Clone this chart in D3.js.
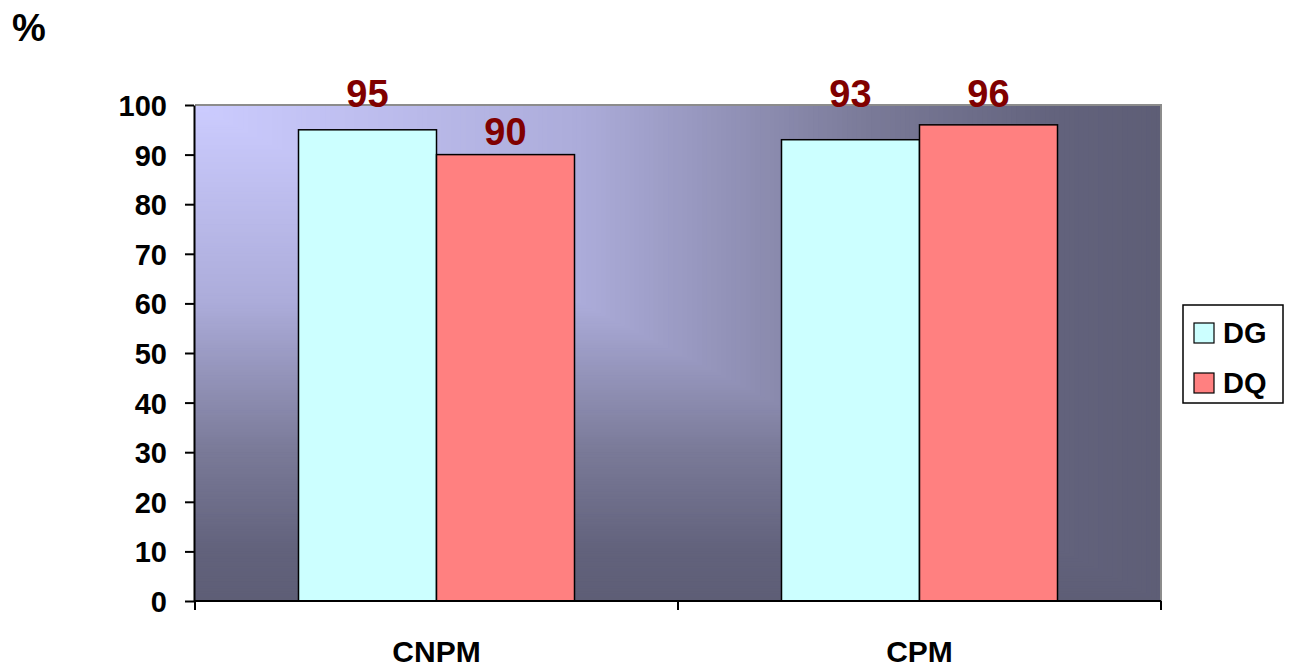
<!DOCTYPE html>
<html>
<head>
<meta charset="utf-8">
<script src="https://cdn.jsdelivr.net/npm/d3@7"></script>
<style>
  html, body { margin: 0; padding: 0; background: #ffffff; }
  svg { display: block; font-family: "Liberation Sans", Arial, sans-serif; font-weight: bold; }
</style>
</head>
<body>
<svg id="chart" width="1293" height="667"></svg>
<script>
const categories = ["CNPM", "CPM"];
const seriesNames = ["DG", "DQ"];
const dgValues = [95, 93];
const dqValues = [90, 96];
const yTicks = [0, 10, 20, 30, 40, 50, 60, 70, 80, 90, 100];
const seriesColors = ["#ccffff", "#ff8080"];

const svg = d3.select("#chart");
const plot = { left: 195, right: 1161, top: 105, bottom: 601 };
const pw = plot.right - plot.left, ph = plot.bottom - plot.top;

const y = d3.scaleLinear().domain([0, 100]).range([plot.bottom, plot.top]);
const x0 = d3.scaleBand().domain(categories).range([plot.left, plot.right]).padding(0);
const x1 = d3.scaleBand().domain(seriesNames).range([0, x0.bandwidth()]).paddingInner(0).paddingOuter(0.75);

// Background: rectangular "from corner" gradient
const bgColor = d3.scaleLinear()
  .domain([0, 0.4, 0.7, 0.9, 1])
  .range(["#ccccff", "#acacda", "#7a7a98", "#62627c", "#5e5e76"])
  .interpolate(d3.interpolateRgb);
const steps = d3.range(200, 0, -1).map(i => i / 200);
const bg = svg.append("g");
bg.selectAll("rect").data(steps).join("rect")
  .attr("x", plot.left).attr("y", plot.top)
  .attr("width", s => pw * s).attr("height", s => ph * s)
  .attr("fill", s => bgColor(s));

// plot area border (gray top & right)
svg.append("path")
  .attr("d", `M${plot.left},${plot.top}H${plot.right}V${plot.bottom}`)
  .attr("fill", "none").attr("stroke", "#8c8c8c").attr("stroke-width", 2);

// data rows
const rows = categories.map((c, i) => ({ cat: c, vals: [dgValues[i], dqValues[i]] }));

const groups = svg.append("g").selectAll("g").data(rows).join("g")
  .attr("transform", d => `translate(${x0(d.cat)},0)`);

groups.selectAll("rect").data(d => d.vals.map((v, j) => ({ s: seriesNames[j], v, j }))).join("rect")
  .attr("x", d => x1(d.s))
  .attr("y", d => y(d.v))
  .attr("width", x1.bandwidth())
  .attr("height", d => y(0) - y(d.v))
  .attr("fill", d => seriesColors[d.j])
  .attr("stroke", "#000").attr("stroke-width", 1.5);

// value labels
const labelSize = 38, capH = labelSize * 0.716;
groups.selectAll("text").data(d => d.vals.map((v, j) => ({ s: seriesNames[j], v, j }))).join("text")
  .attr("x", d => x1(d.s) + x1.bandwidth() / 2)
  .attr("y", d => {
    let b = y(d.v) - 10;
    if (b - capH < plot.top) b = plot.top + 2;
    return b;
  })
  .attr("text-anchor", "middle")
  .attr("fill", "#800000")
  .attr("font-size", labelSize)
  .text(d => d.v);

// Y axis
const yAxis = svg.append("g").attr("transform", `translate(${plot.left - 1},0)`)
  .call(d3.axisLeft(y).tickValues(yTicks).tickSize(9).tickPadding(18).tickSizeOuter(0));
yAxis.select(".domain").attr("stroke", "#000").attr("stroke-width", 2);
yAxis.selectAll(".tick line").attr("stroke", "#000").attr("stroke-width", 2);
yAxis.selectAll(".tick text").attr("font-size", 29).attr("fill", "#000")
  .attr("font-family", "Liberation Sans, Arial, sans-serif").attr("font-weight", "bold")
  .attr("dy", "0.36em");

// X axis
const xAxis = svg.append("g").attr("transform", `translate(0,${plot.bottom})`)
  .call(d3.axisBottom(x0).tickSize(0).tickPadding(48));
xAxis.select(".domain").attr("stroke", "#000").attr("stroke-width", 2).attr("d", `M${plot.left - 1},0H${plot.right}`);
xAxis.selectAll(".tick text").attr("font-size", 30).attr("fill", "#000")
  .attr("font-family", "Liberation Sans, Arial, sans-serif").attr("font-weight", "bold")
  .attr("dy", "0.71em").attr("y", 40);
// category separator ticks
const boundaries = categories.map(c => x0(c)).concat([plot.right]);
xAxis.selectAll(".sep").data(boundaries).join("line").attr("class", "sep")
  .attr("x1", d => d).attr("x2", d => d).attr("y1", 0).attr("y2", 9)
  .attr("stroke", "#000").attr("stroke-width", 2);

// "%" unit label
svg.append("text").attr("x", 12).attr("y", 41).attr("font-size", 38).attr("fill", "#000").text("%");

// Legend
const lg = svg.append("g").attr("transform", "translate(1183,305)");
lg.append("rect").attr("width", 100).attr("height", 98).attr("fill", "#fff").attr("stroke", "#000").attr("stroke-width", 1.5);
const li = lg.selectAll("g.item").data(seriesNames).join("g").attr("class", "item")
  .attr("transform", (d, i) => `translate(0,${28 + i * 50})`);
li.append("rect").attr("x", 11).attr("y", -10).attr("width", 20).attr("height", 20)
  .attr("fill", (d, i) => seriesColors[i]).attr("stroke", "#000").attr("stroke-width", 1.2);
li.append("text").attr("x", 40).attr("y", 10).attr("font-size", 29).attr("fill", "#000").text(d => d);
</script>
</body>
</html>
